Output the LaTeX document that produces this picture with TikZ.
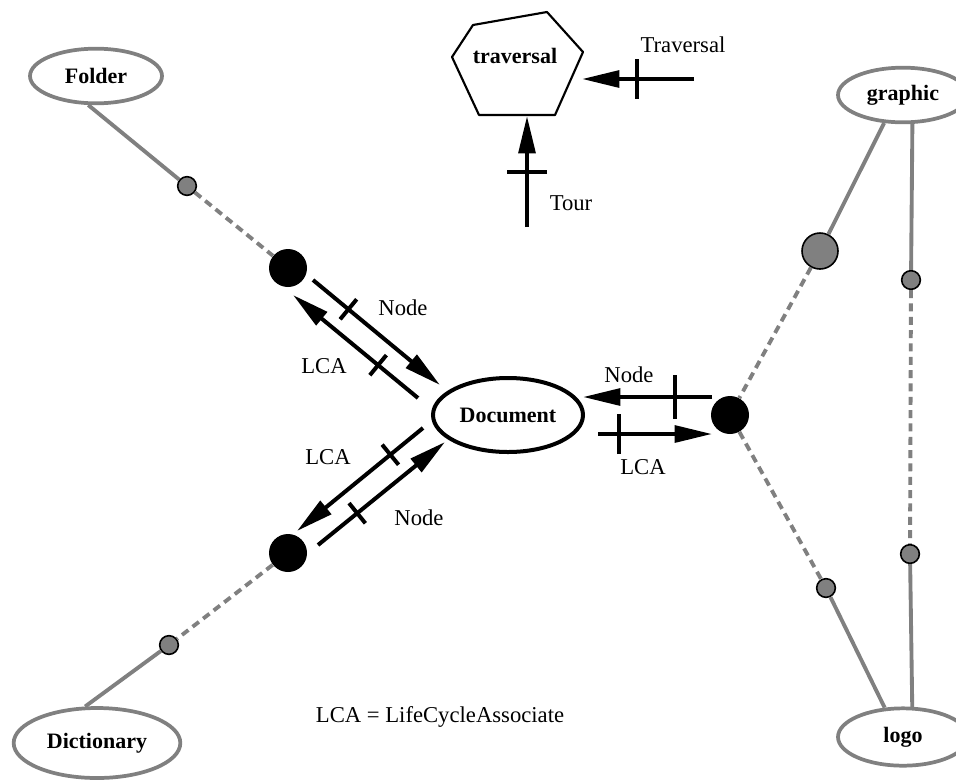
\documentclass[tikz,border=0pt]{standalone}
\usepackage{fontspec}
\setmainfont{Liberation Serif}
\usetikzlibrary{arrows.meta,shapes.geometric,decorations.markings}

\definecolor{linkgray}{HTML}{808080}

\begin{document}
\begin{tikzpicture}[x=0.75pt,y=-0.75pt,
  every node/.style={font=\fontsize{17}{20}\selectfont},
  entity/.style={ellipse, draw=linkgray, line width=2.8pt, fill=white, inner sep=0pt,
                 font=\fontsize{16.5}{20}\selectfont\bfseries},
  dot/.style={circle, fill=linkgray, draw=black, line width=1.2pt, minimum size=14pt, inner sep=0pt},
  bigdot/.style={dot, minimum size=27pt},
  hub/.style={circle, fill=black, minimum size=28.5pt, inner sep=0pt},
  link/.style={draw=linkgray, line width=2.9pt},
  dlink/.style={link, dash pattern=on 6pt off 4pt},
  flow/.style={draw=black, line width=3pt, -{Triangle[length=28pt,width=12.5pt]}},
  tickat/.style 2 args={postaction={decorate,decoration={markings,
      mark=at position #1 with {\draw[line width=3pt,-] (0pt,-#2) -- (0pt,#2);}}}},
]
\useasboundingbox (0,0) rectangle (956,779);

% entities
\node[entity, minimum width=99pt, minimum height=41pt] (folder) at (96,76) {Folder};
\node[entity, minimum width=125pt, minimum height=52.5pt] (dict) at (97,743) {Dictionary};
\node[entity, draw=black, line width=3pt, minimum width=112.5pt, minimum height=55.5pt] (doc) at (508,415) {Document};
\node[entity, minimum width=97.5pt, minimum height=41pt] (graphic) at (903,95) {graphic};
\node[entity, minimum width=97.5pt, minimum height=43pt] (logo) at (903,737) {logo};

% association points
\node[dot] (g1) at (187,186) {};
\node[hub] (b1) at (288,268) {};
\node[hub] (b2) at (288,553) {};
\node[dot] (g2) at (169,645) {};
\node[hub] (b3) at (730,415) {};
\node[bigdot] (bg) at (820,251) {};
\node[dot] (g3) at (911,280) {};
\node[dot] (g4) at (910,554) {};
\node[dot] (g5) at (826,588) {};

% links
\draw[link] (folder.255) -- (g1);
\draw[dlink] (g1) -- (b1);
\draw[dlink] (b2) -- (g2);
\draw[link] (g2) -- (dict.108);
\draw[link] (graphic.236) -- (bg);
\draw[dlink] (bg) -- (b3);
\draw[dlink] (b3) -- (g5);
\draw[link] (g5) -- (logo.122);
\draw[link] (graphic.288) -- (g3);
\draw[dlink] (g3) -- (g4);
\draw[link] (g4) -- (logo.73);

% traversal
\draw[line width=1.6pt, line join=round] (473,25) -- (547,12) -- (583,52) -- (555,115) -- (479,115) -- (452,57) -- cycle;
\node[font=\fontsize{16.5}{20}\selectfont\bfseries] (trav) at (515,56) {traversal};

% flow end points
\coordinate (trvS) at (694,79);   \coordinate (trvE) at (582,79);
\coordinate (tourS) at (527,227); \coordinate (tourE) at (527,116);
\coordinate (rnS) at (712,397);   \coordinate (rnE) at (583,397);
\coordinate (rlS) at (598,434);   \coordinate (rlE) at (712,434);
\coordinate (unS) at (313,280);   \coordinate (unE) at (440,385);
\coordinate (ulS) at (418,398);   \coordinate (ulE) at (293,295);
\coordinate (llS) at (423,428);   \coordinate (llE) at (297,531);
\coordinate (lnS) at (318,545);   \coordinate (lnE) at (445,442);

% flows
\draw[flow, tickat={0.51}{15pt}] (trvS) -- (trvE);
\draw[flow, tickat={0.5}{15pt}] (tourS) -- (tourE);
\draw[flow, tickat={0.29}{16.5pt}] (rnS) -- (rnE);
\draw[flow, tickat={0.18}{15pt}] (rlS) -- (rlE);
\draw[flow, tickat={0.28}{9.75pt}] (unS) -- (unE);
\draw[flow, tickat={0.32}{9.75pt}] (ulS) -- (ulE);
\draw[flow, tickat={0.26}{9.75pt}] (llS) -- (llE);
\draw[flow, tickat={0.31}{9.75pt}] (lnS) -- (lnE);

% labels
\node (lTrv) at (683,45) {Traversal};
\node (lTour) at (571,203) {Tour};
\node (lRN) at (629,375) {Node};
\node (lRL) at (643,467) {LCA};
\node (lUN) at (403,308) {Node};
\node (lUL) at (324,366) {LCA};
\node (lLL) at (328,457) {LCA};
\node (lLN) at (419,518) {Node};
\node (legend) at (440,717) {LCA = LifeCycleAssociate};
\end{tikzpicture}
\end{document}
